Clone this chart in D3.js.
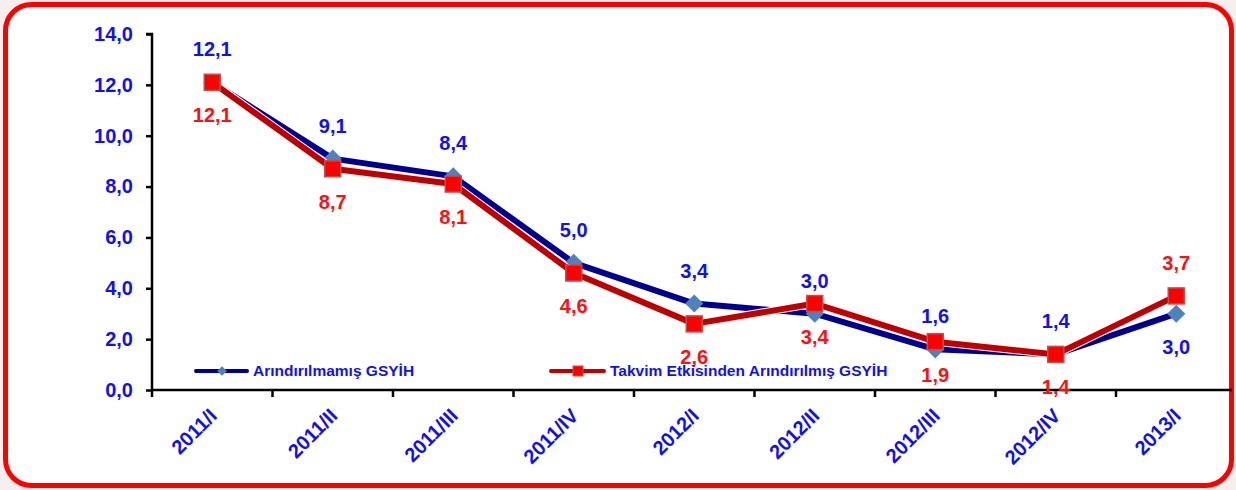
<!DOCTYPE html>
<html>
<head>
<meta charset="utf-8">
<script src="https://cdn.jsdelivr.net/npm/d3@7"></script>
<style>
  body { margin: 0; background: #f7eeee; }
  svg { display: block; font-family: "Liberation Sans", Arial, sans-serif; font-weight: bold; }
</style>
</head>
<body>
<div id="chart"></div>
<script>
const quarters = ["2011/I", "2011/II", "2011/III", "2011/IV", "2012/I", "2012/II", "2012/III", "2012/IV", "2013/I"];
const rawGdp = [12.1, 9.1, 8.4, 5.0, 3.4, 3.0, 1.6, 1.4, 3.0];
const calAdjGdp = [12.1, 8.7, 8.1, 4.6, 2.6, 3.4, 1.9, 1.4, 3.7];
// label side per point: -1 above, 1 below
const rawLabelSide = [-1, -1, -1, -1, -1, -1, -1, -1, 1];
const adjLabelSide = [1, 1, 1, 1, 1, 1, 1, 1, -1];
const yTicks = [0, 2, 4, 6, 8, 10, 12, 14];
const seriesNames = ["Arındırılmamış GSYİH", "Takvim Etkisinden Arındırılmış GSYİH"];

const width = 1236, height = 490;
const blueText = "#1010f0", redText = "#ff1010";

let svg = d3.select("#chart").append("svg")
    .attr("width", width)
    .attr("height", height);

// frame
svg.append("rect")
    .attr("x", 5.5).attr("y", 4.5)
    .attr("width", 1226).attr("height", 481)
    .attr("rx", 26).attr("ry", 26)
    .attr("fill", "white")
    .attr("stroke", "#ff0000")
    .attr("stroke-width", 5);

let x = d3.scaleBand()
    .domain(quarters)
    .range([152, 1236.5]);

let y = d3.scaleLinear()
    .domain([0, 14])
    .range([390, 34]);

let fmt = v => d3.format(".1f")(v).replace(".", ",");

// y axis
let yAxis = svg.append("g")
    .attr("transform", "translate(152,0)")
    .call(d3.axisLeft(y).tickValues(yTicks).tickFormat(fmt).tickSize(6).tickPadding(13));
yAxis.select(".domain").attr("stroke", "#000").attr("stroke-width", 2.5).attr("d", "M-6,34H0V390");
yAxis.selectAll(".tick line").attr("stroke", "#000").attr("stroke-width", 2.5);
yAxis.selectAll(".tick text")
    .attr("fill", blueText)
    .attr("font-size", 20)
    .attr("font-weight", "bold")
    .attr("font-family", "'Liberation Sans', Arial, sans-serif");

// x axis
let xAxis = svg.append("g")
    .attr("transform", "translate(0,390)");
xAxis.append("line")
    .attr("x1", 152).attr("x2", 1232)
    .attr("stroke", "#000").attr("stroke-width", 2.5);
xAxis.selectAll("line.tick")
    .data(quarters)
    .join("line")
    .attr("class", "tick")
    .attr("x1", d => x(d)).attr("x2", d => x(d))
    .attr("y1", 0).attr("y2", 7)
    .attr("stroke", "#000").attr("stroke-width", 2.5);
xAxis.selectAll("text")
    .data(quarters)
    .join("text")
    .attr("transform", d => `translate(${x(d) + x.bandwidth() / 2 + 1},${22}) rotate(-45)`)
    .attr("text-anchor", "end")
    .attr("dy", "0.35em")
    .attr("fill", blueText)
    .attr("font-size", 20)
    .text(d => d);

let cx = d => x(d) + x.bandwidth() / 2;

let line = d3.line()
    .x((d, i) => cx(quarters[i]))
    .y(d => y(d));

// raw series
svg.append("path")
    .datum(rawGdp)
    .attr("d", line)
    .attr("fill", "none")
    .attr("stroke", "#000090")
    .attr("stroke-width", 6)
    .attr("stroke-linejoin", "round");

let diamond = d3.symbol().type(d3.symbolDiamond2).size(210);
svg.selectAll("path.raw")
    .data(rawGdp)
    .join("path")
    .attr("class", "raw")
    .attr("transform", (d, i) => `translate(${cx(quarters[i])},${y(d)})`)
    .attr("d", diamond)
    .attr("fill", "#4f81bd");

// calendar-adjusted series
svg.append("path")
    .datum(calAdjGdp)
    .attr("d", line)
    .attr("fill", "none")
    .attr("stroke", "white")
    .attr("stroke-width", 8)
    .attr("stroke-linejoin", "round");
svg.append("path")
    .datum(calAdjGdp)
    .attr("d", line)
    .attr("fill", "none")
    .attr("stroke", "#c00000")
    .attr("stroke-width", 6)
    .attr("stroke-linejoin", "round");

svg.selectAll("rect.adj")
    .data(calAdjGdp)
    .join("rect")
    .attr("class", "adj")
    .attr("x", (d, i) => cx(quarters[i]) - 8)
    .attr("y", d => y(d) - 8)
    .attr("width", 16).attr("height", 16)
    .attr("fill", "#ff0000")
    .attr("stroke", "#c0504d")
    .attr("stroke-width", 1.5);

// value labels
svg.selectAll("text.rawlab")
    .data(rawGdp)
    .join("text")
    .attr("class", "rawlab")
    .attr("x", (d, i) => cx(quarters[i]))
    .attr("y", (d, i) => y(d) + rawLabelSide[i] * 33)
    .attr("dy", "0.35em")
    .attr("text-anchor", "middle")
    .attr("fill", blueText)
    .attr("font-size", 20)
    .text(d => fmt(d));

svg.selectAll("text.adjlab")
    .data(calAdjGdp)
    .join("text")
    .attr("class", "adjlab")
    .attr("x", (d, i) => cx(quarters[i]))
    .attr("y", (d, i) => y(d) + adjLabelSide[i] * 33)
    .attr("dy", "0.35em")
    .attr("text-anchor", "middle")
    .attr("fill", redText)
    .attr("font-size", 20)
    .text(d => fmt(d));

// legend
let legend = svg.append("g").attr("transform", "translate(0,371)");
let lg1 = legend.append("g").attr("transform", "translate(196,0)");
lg1.append("line").attr("x1", 0).attr("x2", 51)
    .attr("stroke", "#000090").attr("stroke-width", 4).attr("stroke-linecap", "round");
lg1.append("path").attr("transform", "translate(26,0)")
    .attr("d", d3.symbol().type(d3.symbolDiamond2).size(60))
    .attr("fill", "#4f81bd");
lg1.append("text").attr("x", 57).attr("dy", "0.35em")
    .attr("fill", blueText).attr("font-size", 15.5)
    .text(seriesNames[0]);

let lg2 = legend.append("g").attr("transform", "translate(551,0)");
lg2.append("line").attr("x1", 0).attr("x2", 53)
    .attr("stroke", "#c00000").attr("stroke-width", 4).attr("stroke-linecap", "round");
lg2.append("rect").attr("x", 22).attr("y", -5).attr("width", 10).attr("height", 10)
    .attr("fill", "#ff0000").attr("stroke", "#c0504d");
lg2.append("text").attr("x", 59).attr("dy", "0.35em")
    .attr("fill", blueText).attr("font-size", 15.5)
    .text(seriesNames[1]);
</script>
</body>
</html>
